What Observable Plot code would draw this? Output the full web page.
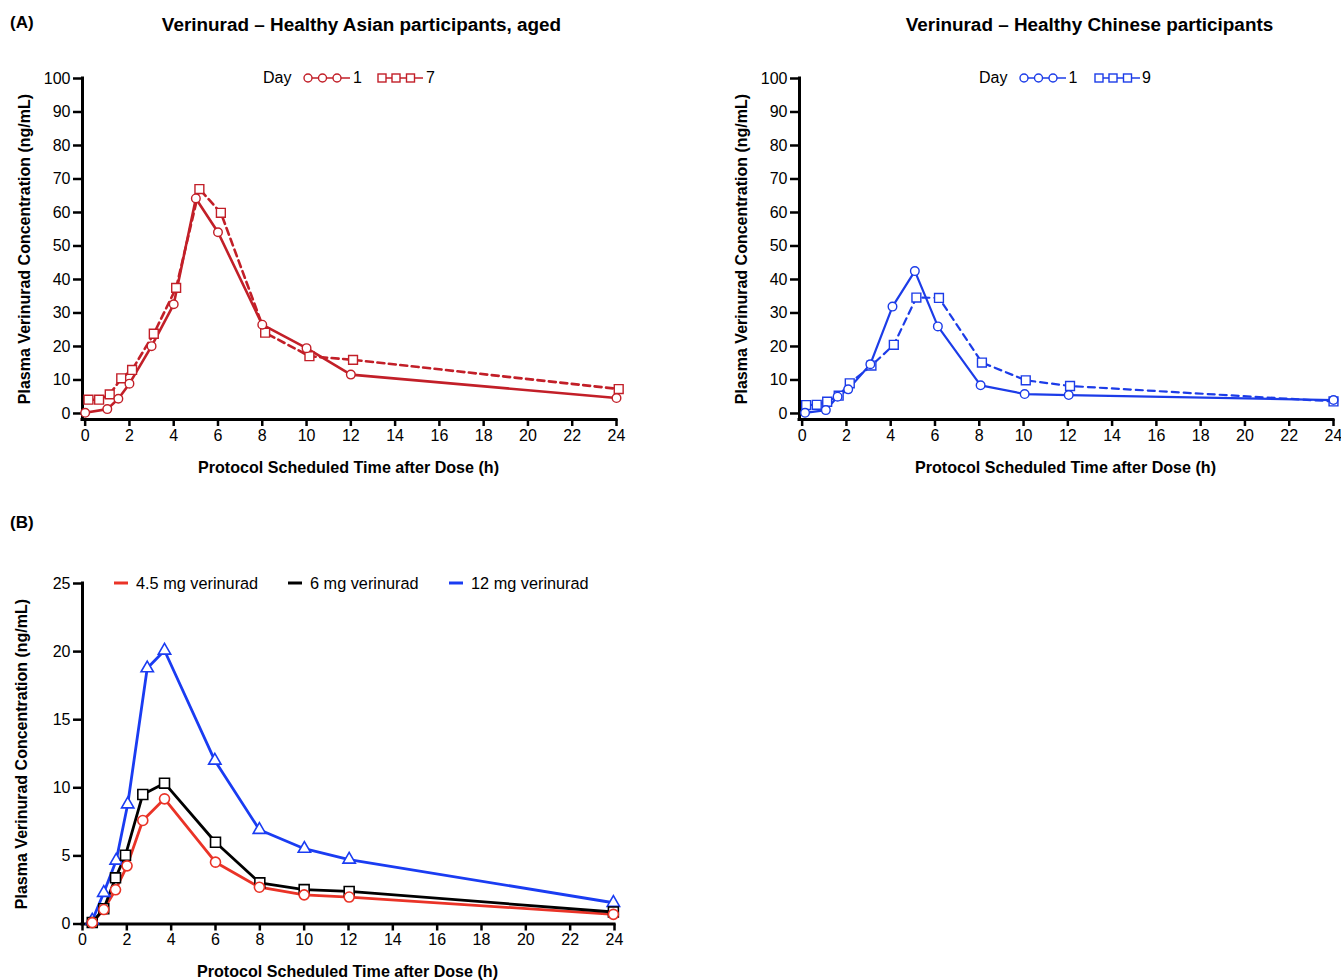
<!DOCTYPE html>
<html>
<head>
<meta charset="utf-8">
<script src="https://cdn.jsdelivr.net/npm/d3@7"></script>
<script src="https://cdn.jsdelivr.net/npm/@observablehq/plot@0.6"></script>
<style>
  html, body { margin: 0; padding: 0; background: #fff; overflow: hidden; }
  #chart { position: relative; width: 1341px; height: 980px; font-family: "Liberation Sans", Arial, sans-serif; color: #000; }
  .abs { position: absolute; white-space: nowrap; line-height: 1; }
  .plotwrap { position: absolute; }
</style>
</head>
<body>
<div id="chart"></div>
<script>
// ---------- DATA ----------
// Panel A (left): Healthy Asian participants, aged
const asianDay1Time = [0, 1, 1.5, 2, 3, 4, 5, 6, 8, 10, 12, 24];
const asianDay1Conc = [0.2, 1.3, 4.4, 8.9, 20.1, 32.6, 64.2, 54.1, 26.5, 19.5, 11.6, 4.6];
const asianDay7Time = [0.15, 0.63, 1.11, 1.63, 2.12, 3.1, 4.11, 5.16, 6.13, 8.13, 10.13, 12.1, 24.1];
const asianDay7Conc = [4.1, 4.1, 5.7, 10.5, 13.0, 23.8, 37.5, 67.0, 59.9, 24.1, 17.1, 16.0, 7.3];

// Panel A (right): Healthy Chinese participants
const chineseDay1Time = [0.13, 1.07, 1.6, 2.08, 3.08, 4.08, 5.09, 6.13, 8.06, 10.05, 12.04, 24];
const chineseDay1Conc = [0.2, 1.0, 5.0, 7.2, 14.7, 31.9, 42.5, 26.0, 8.4, 5.8, 5.5, 4.0];
const chineseDay9Time = [0.18, 0.66, 1.13, 1.65, 2.15, 3.13, 4.14, 5.16, 6.18, 8.12, 10.1, 12.1, 24];
const chineseDay9Conc = [2.5, 2.6, 3.5, 5.3, 9.0, 14.3, 20.5, 34.6, 34.5, 15.2, 9.9, 8.2, 3.6];

// Panel B: doses
const dose45Time = [0.44, 0.96, 1.49, 2.01, 2.72, 3.70, 6.0, 7.98, 10.0, 12.03, 23.95];
const dose45Conc = [0.1, 1.06, 2.51, 4.27, 7.6, 9.19, 4.54, 2.70, 2.14, 1.98, 0.71];
const dose6Time = [0.44, 0.96, 1.49, 1.94, 2.72, 3.70, 6.0, 8.0, 10.0, 12.03, 23.95];
const dose6Conc = [0.11, 1.12, 3.39, 5.05, 9.51, 10.34, 6.0, 3.02, 2.53, 2.39, 0.88];
const dose12Time = [0.44, 0.96, 1.52, 2.04, 2.92, 3.70, 5.97, 7.98, 10.01, 12.03, 23.95];
const dose12Conc = [0.26, 2.29, 4.66, 8.79, 18.78, 20.08, 12.0, 6.92, 5.53, 4.73, 1.56];

// Axis ticks / domains
const xTicks = [0, 2, 4, 6, 8, 10, 12, 14, 16, 18, 20, 22, 24];
const yTicksA = [0, 10, 20, 30, 40, 50, 60, 70, 80, 90, 100];
const yTicksB = [0, 5, 10, 15, 20, 25];
const xDomainA = [-0.12, 24];
const yDomainA = [-1.8, 100];
const xDomainB = [0, 24];
const yDomainB = [0, 25];

// Labels
const titleLeft = "Verinurad – Healthy Asian participants, aged";
const titleRight = "Verinurad – Healthy Chinese participants";
const yLabel = "Plasma Verinurad Concentration (ng/mL)";
const xLabel = "Protocol Scheduled Time after Dose (h)";
const doseNames = ["4.5 mg verinurad", "6 mg verinurad", "12 mg verinurad"];

// Colours
const darkRed = "#c21f28";
const blueA = "#1c3ce8";
const redB = "#ea3327";
const blackB = "#000000";
const blueB = "#1a3cf2";

// ---------- helpers ----------
const chart = document.getElementById("chart");
const FONT = '"Liberation Sans", Arial, sans-serif';

function zip(times, concs, series) {
  return times.map((t, i) => ({t, c: concs[i], series}));
}

function addText(txt, x, y, {size = 15, weight = "normal", rotate = false, align = "center"} = {}) {
  const d = document.createElement("div");
  d.className = "abs";
  d.textContent = txt;
  d.style.left = x + "px";
  d.style.top = y + "px";
  d.style.fontSize = size + "px";
  d.style.fontWeight = weight;
  d.style.fontFamily = FONT;
  let tr = align === "center" ? "translate(-50%,-50%)" : "translate(0,-50%)";
  if (rotate) tr += " rotate(-90deg)";
  d.style.transform = tr;
  chart.appendChild(d);
  return d;
}

function addSvg(html, x, y, w, h) {
  const d = document.createElement("div");
  d.className = "abs";
  d.style.left = x + "px";
  d.style.top = y + "px";
  d.innerHTML = `<svg width="${w}" height="${h}" style="display:block;overflow:visible">${html}</svg>`;
  chart.appendChild(d);
}

function panel({left, top, width, height, mt, mb, ml, mr, xDomain, yDomain, yTicks, lines, dots}) {
  const p = Plot.plot({
    width, height,
    marginTop: mt, marginBottom: mb, marginLeft: ml, marginRight: mr,
    style: {fontFamily: FONT, fontSize: "16px", color: "#000", background: "transparent", overflow: "visible"},
    x: {domain: xDomain},
    y: {domain: yDomain},
    marks: [
      Plot.axisX({ticks: xTicks, tickSize: 7, tickPadding: 3, strokeWidth: 2.5, fontSize: 16, label: null, anchor: "bottom"}),
      Plot.axisY({ticks: yTicks, tickSize: 9, tickPadding: 3, strokeWidth: 2.5, fontSize: 16, label: null, anchor: "left"}),
      Plot.ruleX([xDomain[0]], {y1: yDomain[0], y2: yDomain[1], strokeWidth: 3, stroke: "#000", strokeLinecap: "square"}),
      Plot.ruleY([yDomain[0]], {x1: xDomain[0], x2: xDomain[1], strokeWidth: 3, stroke: "#000", strokeLinecap: "square"}),
      ...lines.map(l => Plot.line(l.data, {x: "t", y: "c", stroke: l.color, strokeWidth: l.width, strokeDasharray: l.dash})),
      ...dots.map(d => Plot.dot(d.data, {x: "t", y: "c", symbol: d.symbol, r: d.r, stroke: d.color, fill: "white", strokeWidth: d.sw}))
    ]
  });
  const w = document.createElement("div");
  w.className = "plotwrap";
  w.style.left = left + "px";
  w.style.top = top + "px";
  w.appendChild(p);
  chart.appendChild(w);
}

// ---------- Panel A left ----------
const aL1 = zip(asianDay1Time, asianDay1Conc, "Day 1");
const aL7 = zip(asianDay7Time, asianDay7Conc, "Day 7");
panel({
  left: 0, top: 0, width: 660, height: 490, mt: 78, mb: 71, ml: 82, mr: 44,
  xDomain: xDomainA, yDomain: yDomainA, yTicks: yTicksA,
  lines: [
    {data: aL7, color: darkRed, width: 2.6, dash: "7,4.5"},
    {data: aL1, color: darkRed, width: 2.6}
  ],
  dots: [
    {data: aL7, color: darkRed, symbol: "square", r: 5, sw: 1.4},
    {data: aL1, color: darkRed, symbol: "circle", r: 4.3, sw: 1.4}
  ]
});

// ---------- Panel A right ----------
const aR1 = zip(chineseDay1Time, chineseDay1Conc, "Day 1");
const aR9 = zip(chineseDay9Time, chineseDay9Conc, "Day 9");
panel({
  left: 717, top: 0, width: 624, height: 490, mt: 78, mb: 71, ml: 82, mr: 8,
  xDomain: xDomainA, yDomain: yDomainA, yTicks: yTicksA,
  lines: [
    {data: aR9, color: blueA, width: 2.2, dash: "7,5"},
    {data: aR1, color: blueA, width: 2.2}
  ],
  dots: [
    {data: aR9, color: blueA, symbol: "square", r: 5, sw: 1.4},
    {data: aR1, color: blueA, symbol: "circle", r: 4.3, sw: 1.4}
  ]
});

// ---------- Panel B ----------
const b45 = zip(dose45Time, dose45Conc, doseNames[0]);
const b6 = zip(dose6Time, dose6Conc, doseNames[1]);
const b12 = zip(dose12Time, dose12Conc, doseNames[2]);
panel({
  left: 0, top: 500, width: 660, height: 480, mt: 83, mb: 56.5, ml: 82, mr: 46,
  xDomain: xDomainB, yDomain: yDomainB, yTicks: yTicksB,
  lines: [
    {data: b45, color: redB, width: 2.8},
    {data: b6, color: blackB, width: 2.8},
    {data: b12, color: blueB, width: 2.8}
  ],
  dots: [
    {data: b12, color: blueB, symbol: "triangle", r: 4.6, sw: 1.6},
    {data: b6, color: blackB, symbol: "square", r: 5.6, sw: 1.6},
    {data: b45, color: redB, symbol: "circle", r: 5, sw: 1.6}
  ]
});

// ---------- Text ----------
addText("(A)", 10, 22, {size: 17, weight: "bold", align: "left"});
addText("(B)", 10, 522, {size: 17, weight: "bold", align: "left"});
addText(titleLeft, 361.5, 25, {size: 18.9, weight: "bold"});
addText(titleRight, 1089.5, 25, {size: 18.9, weight: "bold"});
addText(yLabel, 25, 249, {size: 16, weight: "bold", rotate: true});
addText(yLabel, 742, 249, {size: 16, weight: "bold", rotate: true});
addText(yLabel, 22, 753.5, {size: 16, weight: "bold", rotate: true});
addText(xLabel, 348.5, 467, {size: 16.1, weight: "bold"});
addText(xLabel, 1065.5, 467, {size: 16.1, weight: "bold"});
addText(xLabel, 347.5, 971, {size: 16.1, weight: "bold"});

// ---------- Legends A ----------
function circleKey(color) {
  return `<line x1="4" y1="8" x2="46" y2="8" stroke="${color}" stroke-width="1.6"/>` +
    [4, 18.5, 33].map(cx => `<circle cx="${cx}" cy="8" r="4" fill="white" stroke="${color}" stroke-width="1.4"/>`).join("");
}
function squareKey(color) {
  return `<line x1="4" y1="8" x2="45" y2="8" stroke="${color}" stroke-width="1.6"/>` +
    [4, 18, 32.5].map(cx => `<rect x="${cx - 4}" y="4" width="8" height="8" fill="white" stroke="${color}" stroke-width="1.4"/>`).join("");
}
addText("Day", 263, 78, {size: 16, align: "left"});
addSvg(circleKey(darkRed), 303.5, 70, 50, 16);
addText("1", 353, 78, {size: 16, align: "left"});
addSvg(squareKey(darkRed), 378, 70, 50, 16);
addText("7", 426, 78, {size: 16, align: "left"});

addText("Day", 979, 78, {size: 16, align: "left"});
addSvg(circleKey(blueA), 1020, 70, 50, 16);
addText("1", 1068.5, 78, {size: 16, align: "left"});
addSvg(squareKey(blueA), 1095, 70, 50, 16);
addText("9", 1142, 78, {size: 16, align: "left"});

// ---------- Legend B ----------
const legB = [
  {name: doseNames[0], color: redB, x: 114},
  {name: doseNames[1], color: blackB, x: 288},
  {name: doseNames[2], color: blueB, x: 449}
];
legB.forEach(l => {
  addSvg(`<line x1="0" y1="4" x2="14" y2="4" stroke="${l.color}" stroke-width="3"/>`, l.x, 578.5, 14, 8);
  addText(l.name, l.x + 22, 582.5, {size: 16.3, align: "left"});
});
</script>
</body>
</html>
